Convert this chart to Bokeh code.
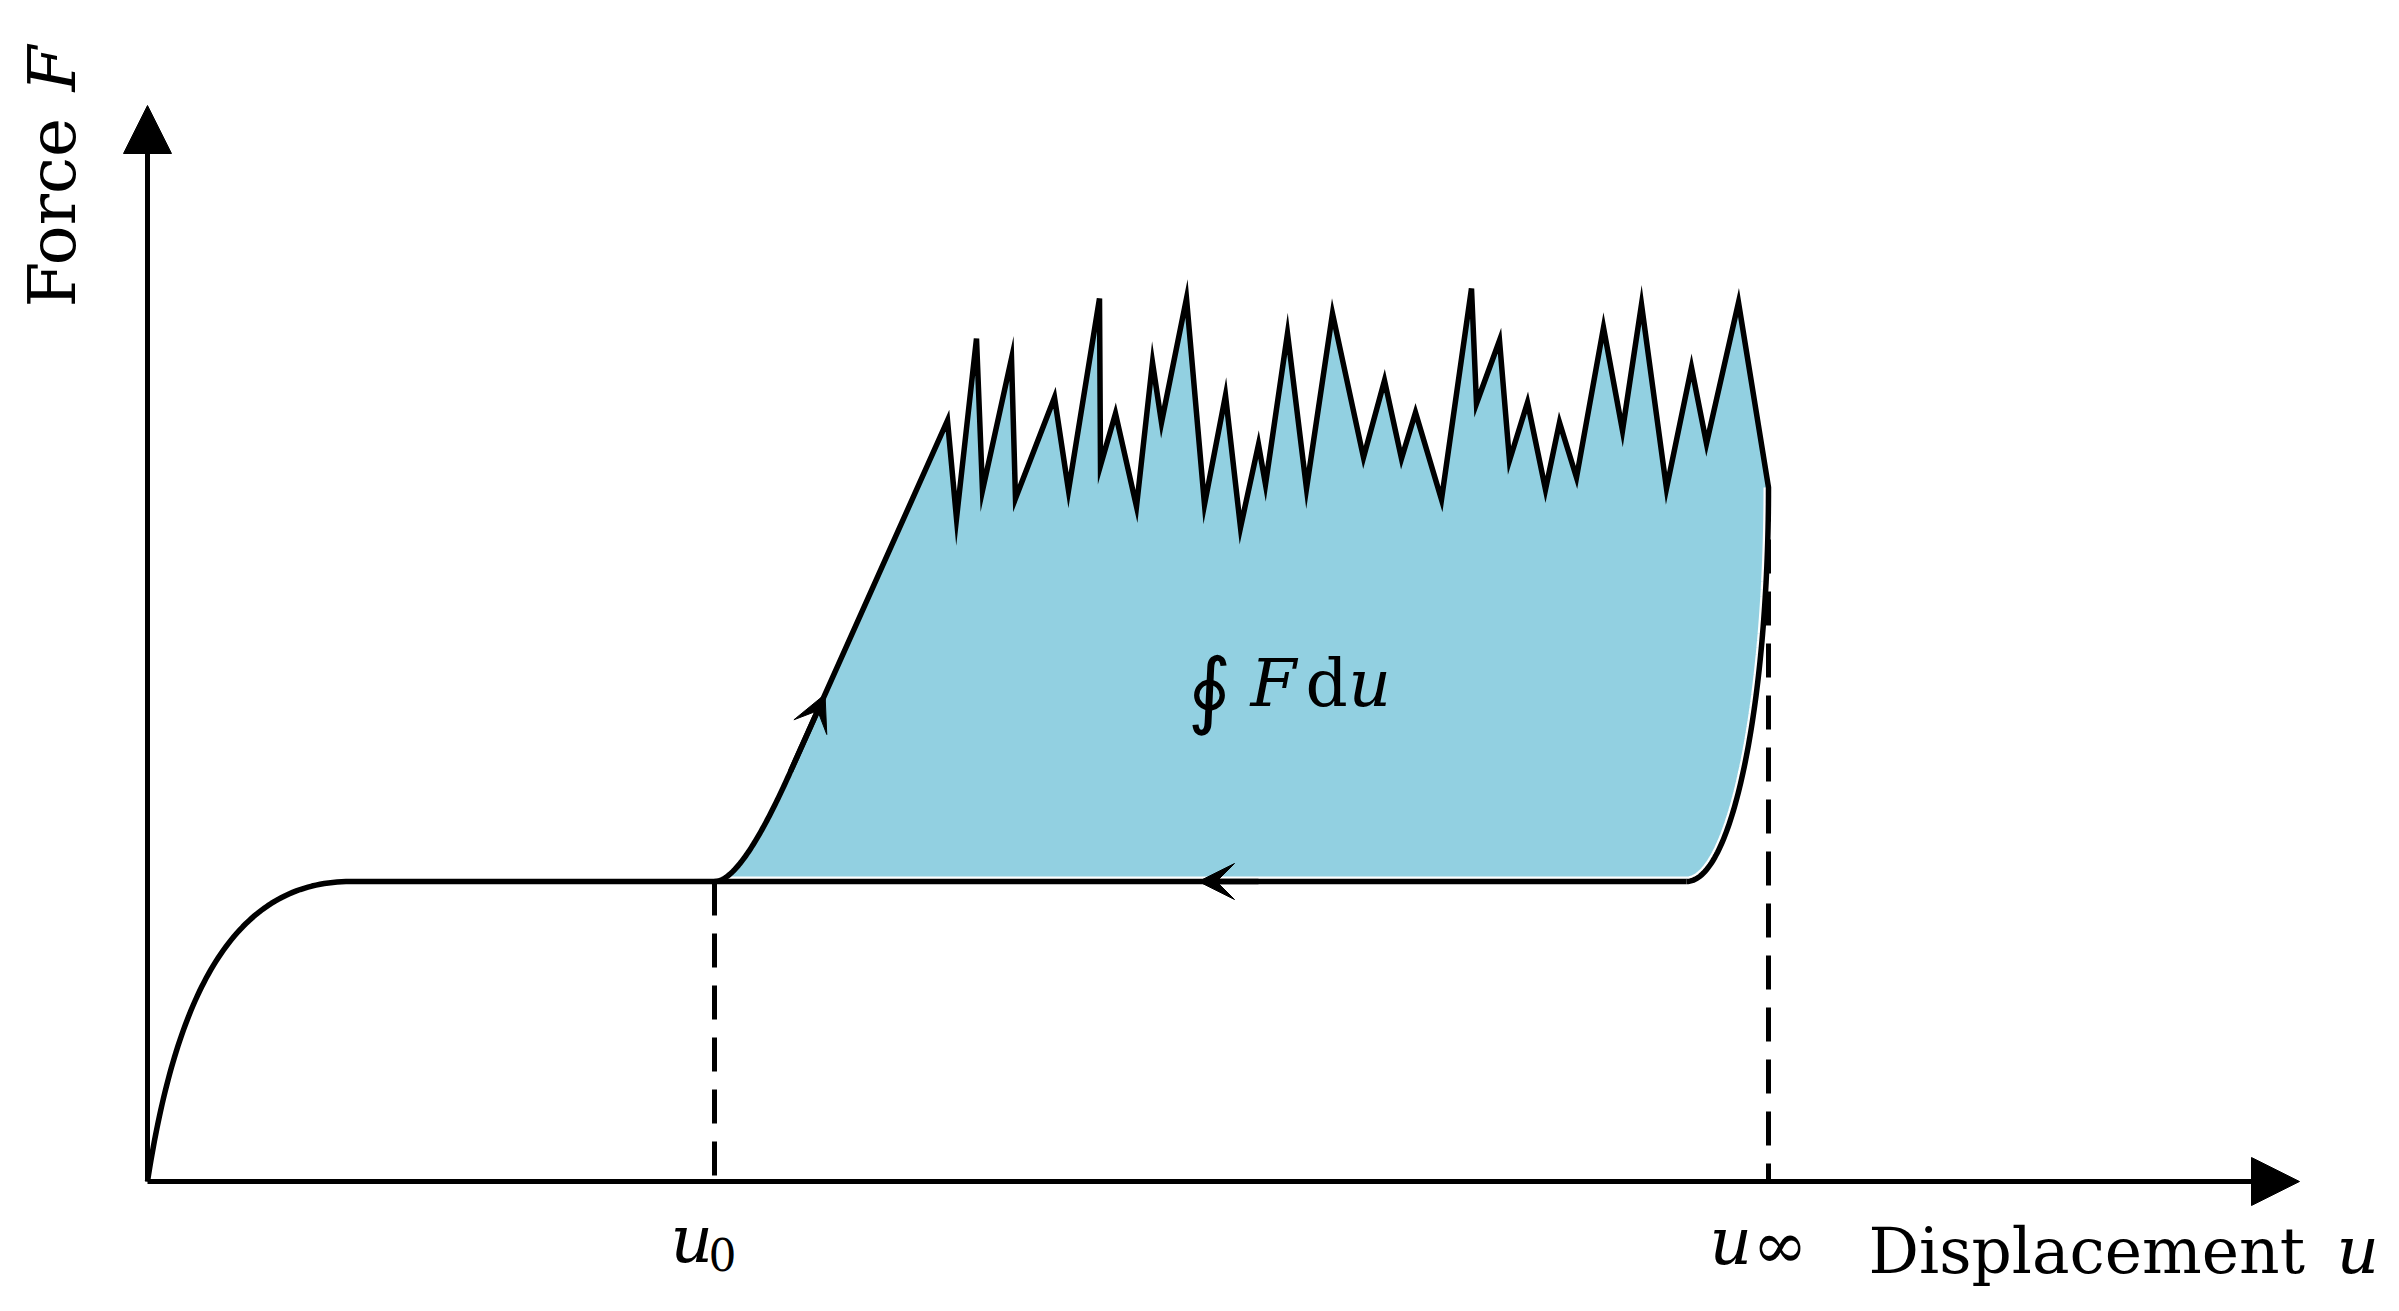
import numpy as np
from math import comb, pi
from bokeh.plotting import figure
from bokeh.models import Range1d, Arrow, NormalHead, VeeHead, Label
from bokeh.embed import file_html
from bokeh.resources import INLINE

# ---------------- values (u = displacement, F = force) -------------
u0 = 56.7            # start of the serrated cycle
u_inf = 162.1        # end of the serrated cycle
F_plateau = 30.0     # plateau force
u_axis_end = 215.2
F_axis_end = 107.6

# initial loading curve 0 -> plateau (Bezier control values)
load_u = [0.0, 2.8, 8.3, 20.3]
load_F = [0.0, 18.1, 30.0, 30.0]

# rise from u0 (Bezier control values), then straight ramp to the first peak
rise_u = [56.7, 59.4, 64.3]
rise_F = [30.0, 30.0, 41.0]

# serrated force response
jag_u = [80.0, 80.9, 82.9, 83.5, 86.4, 86.8, 90.7, 92.1, 95.2, 95.3, 96.8, 98.9,
         100.5, 101.4, 103.9, 105.7, 107.8, 109.3, 111.1, 111.8, 114.0, 115.9,
         118.5, 121.6, 123.7, 125.4, 126.8, 129.4, 132.4, 132.9, 135.2, 136.2,
         138.0, 139.8, 141.2, 142.9, 145.6, 147.5, 149.4, 151.9, 154.4, 155.9,
         159.1, 162.1]
jag_F = [76.1, 66.3, 84.3, 69.1, 82.3, 68.3, 78.4, 69.1, 88.3, 71.6, 76.8, 67.5,
         81.9, 75.9, 88.3, 67.7, 78.6, 65.4, 73.7, 69.7, 84.8, 69.3,
         86.8, 72.4, 80.1, 72.3, 76.9, 68.2, 89.3, 77.8, 84.1, 72.1,
         77.9, 69.2, 75.9, 70.4, 85.4, 75.1, 87.7, 69.3, 81.4, 73.8,
         87.9, 69.4]

# unloading curve u_inf -> plateau (Bezier control values)
unload_u = [162.1, 162.1, 158.5, 153.9]
unload_F = [69.4, 48.1, 30.0, 30.0]

# arrow positions on the path
ramp_arrow_frac = 0.22
back_arrow_u = 105.1

FILL = "#92D0E1"
LW = 5.5


def bezier(us, Fs, n=80):
    t = np.linspace(0.0, 1.0, n)[:, None]
    P = np.column_stack([us, Fs]).astype(float)
    k = len(P) - 1
    B = sum(comb(k, i) * t ** i * (1 - t) ** (k - i) * P[i] for i in range(k + 1))
    return B[:, 0], B[:, 1]


load_x, load_y = bezier(load_u, load_F)
rise_x, rise_y = bezier(rise_u, rise_F)
unl_x, unl_y = bezier(unload_u, unload_F)

p = figure(width=2399, height=1311,
           x_range=Range1d(-14.7, 225.2), y_range=Range1d(-13.0, 118.1),
           output_backend="svg", toolbar_location=None, min_border=0,
           x_axis_location=None, y_axis_location=None)
p.grid.visible = False
p.outline_line_color = None
p.background_fill_color = "white"
p.border_fill_color = "white"

# filled cycle area
cyc_x = np.concatenate([rise_x, jag_u, unl_x[1:]])
cyc_y = np.concatenate([rise_y, jag_F, unl_y[1:]])
p.patch(cyc_x, cyc_y, fill_color=FILL, line_color=None)

# thin white gap along the unloading side
gap_x = np.concatenate([unl_x, [u0]])
gap_y = np.concatenate([unl_y, [F_plateau]])
p.line(gap_x, gap_y, line_color="white", line_width=10)

# dashed markers
p.line([u0, u0], [F_plateau, 0], line_color="black", line_width=5, line_dash="34 18")
p.line([u_inf, u_inf], [jag_F[-1], 0], line_color="black", line_width=5, line_dash="34 18")

# loading curve and plateau
p.line(np.concatenate([load_x, [unload_u[-1]]]), np.concatenate([load_y, [F_plateau]]),
       line_color="black", line_width=LW, line_join="round")
# cycle outline
p.line(cyc_x, cyc_y, line_color="black", line_width=LW, line_join="miter")

# axes with arrow heads
p.add_layout(Arrow(end=NormalHead(size=48, fill_color="black", line_color="black", line_width=1),
                   x_start=0, y_start=0, x_end=u_axis_end, y_end=0,
                   line_color="black", line_width=5))
p.add_layout(Arrow(end=NormalHead(size=48, fill_color="black", line_color="black", line_width=1),
                   x_start=0, y_start=0, x_end=0, y_end=F_axis_end,
                   line_color="black", line_width=5))

# direction arrows
tip_u = rise_u[-1] + ramp_arrow_frac * (jag_u[0] - rise_u[-1])
tip_F = rise_F[-1] + ramp_arrow_frac * (jag_F[0] - rise_F[-1])
p.add_layout(Arrow(end=VeeHead(size=36, fill_color="black", line_color="black", line_width=1),
                   x_start=rise_u[-1], y_start=rise_F[-1], x_end=tip_u, y_end=tip_F,
                   line_color="black", line_width=LW))
p.add_layout(Arrow(end=VeeHead(size=36, fill_color="black", line_color="black", line_width=1),
                   x_start=back_arrow_u + 6, y_start=F_plateau, x_end=back_arrow_u, y_end=F_plateau,
                   line_color="black", line_width=LW))

SERIF = "DejaVu Serif"


def lab(x, y, text, size=66, style="normal", font=SERIF, angle=0.0):
    # y (or x for rotated text) is the wanted baseline; compensate the label's own baseline offset
    shift = 0.041 * size
    if angle:
        x = x - shift
    else:
        y = y + shift
    p.add_layout(Label(x=x, y=y, text=text, text_font=font, text_font_size=f"{size}px",
                       text_font_style=style, text_color="black",
                       text_baseline="alphabetic", text_align="left", angle=angle))


# u0 label
lab(52.3, -8.5, "u", style="italic")
lab(56.1, -9.1, "0", size=44)
# u_inf label
lab(156.2, -8.7, "u", style="italic")
lab(160.5, -9.1, "∞", size=66)
# x axis title
lab(172.1, -9.6, "Displacement", size=63)
lab(218.9, -9.6, "u", style="italic")
# y axis title
lab(-6.8, 87.4, "Force", angle=pi / 2)
lab(-6.8, 109.0, "F", style="italic", angle=pi / 2)
# area label
lab(104.0, 45.8, "∮", size=84, font="DejaVu Sans")
lab(110.3, 47.1, "F", style="italic")
lab(115.8, 47.1, "d")
lab(120.1, 47.1, "u", style="italic")

open("out.html", "w").write(file_html(p, INLINE))
